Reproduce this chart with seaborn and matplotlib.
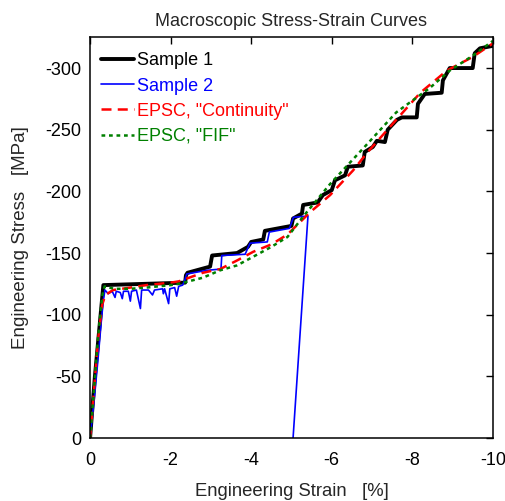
import numpy as np
import pandas as pd
import matplotlib
matplotlib.use("Agg")
import matplotlib.pyplot as plt
import seaborn as sns

# ---- data ----
strain_s1 = [0, -0.12, -0.33, -2.36, -2.38, -2.42, -2.98, -3.03, -3.65, -3.92, -4.0, -4.3,
             -4.34, -5.0, -5.04, -5.26, -5.29, -5.65, -5.78, -6.0, -6.08, -6.33, -6.4, -6.77,
             -6.82, -7.02, -7.12, -7.32, -7.39, -7.62, -7.74, -8.11, -8.14, -8.31, -8.73,
             -8.76, -8.93, -9.5, -9.55, -9.68, -10.0]
stress_s1 = [0, -50, -124, -126, -132, -134, -139, -148, -150, -155, -159, -161,
             -168, -172, -178, -182, -189, -191, -197, -201, -209, -213, -220, -221,
             -232, -236, -241, -240, -250, -258, -260, -260, -271, -279, -280,
             -290, -300, -300, -312, -316, -318]

strain_s2 = [0, -0.1, -0.2, -0.28, -0.33, -0.37, -0.45, -0.55, -0.62, -0.65, -0.75, -0.8,
             -0.83, -0.95, -1.0, -1.03, -1.15, -1.25, -1.28, -1.45, -1.55, -1.6, -1.8,
             -1.82, -1.85, -1.95, -1.98, -2.1, -2.15, -2.2, -2.3, -2.35, -2.4, -2.9,
             -3.25, -3.27, -3.85, -3.97, -4.4, -4.45, -4.95, -5.05, -5.41, -5.04]
stress_s2 = [0, -30, -65, -95, -112, -120, -117, -119, -114, -119, -118, -113,
             -119, -119, -111, -119, -120, -105, -120, -120, -116, -120, -121,
             -117, -121, -109, -121, -122, -115, -123, -124, -128, -133, -136,
             -137, -148, -149, -158, -159, -167, -170, -179, -180, 0]

strain_cont = [0, -0.1, -0.2, -0.3, -0.38, -0.57, -1.0, -1.4, -2.0, -2.2, -2.8, -3.23,
               -3.65, -4.05, -4.5, -4.9, -5.46, -5.96, -6.53, -6.87, -7.6, -8.2, -8.86,
               -9.5, -10.0]
stress_cont = [0, -40, -80, -108, -116, -120, -122, -124, -126, -127, -134, -137,
               -144, -151, -157, -165, -183, -197, -217, -231, -258, -280, -298,
               -309, -320]

strain_fif = [0, -0.1, -0.2, -0.3, -0.36, -0.6, -1.0, -1.4, -2.0, -2.2, -2.8, -3.23,
              -3.65, -4.05, -4.5, -4.9, -5.3, -5.96, -6.87, -7.6, -8.44, -8.93, -9.5, -10.0]
stress_fif = [0, -40, -82, -115, -123, -121, -121, -122, -124, -125, -130, -136,
              -140, -147, -155, -163, -180, -206, -238, -264, -284, -298, -310, -322]

labels = ["Sample 1", "Sample 2", 'EPSC, "Continuity"', 'EPSC, "FIF"']
x_ticks = [0, -2, -4, -6, -8, -10]
y_ticks = [0, -50, -100, -150, -200, -250, -300]

# ---- style ----
sns.set_style("white")
plt.rcParams['font.family'] = ['Liberation Sans', 'DejaVu Sans']
plt.rcParams['axes.unicode_minus'] = False

fig = plt.figure(figsize=(5.06, 5.01), dpi=100)
ax = fig.add_axes([0.178, 0.1257, 0.796, 0.800])

dash = (0, (4, 2.5))
dot = (0, (1.5, 1.5))

sns.lineplot(x=strain_s1, y=stress_s1, sort=False, estimator=None, ax=ax,
             color="black", lw=2.8, label=labels[0])
sns.lineplot(x=strain_s2, y=stress_s2, sort=False, estimator=None, ax=ax,
             color="#0000ff", lw=1.2, label=labels[1])
sns.lineplot(x=strain_cont, y=stress_cont, sort=False, estimator=None, ax=ax,
             color="#ff0000", lw=1.8, label=labels[2])
sns.lineplot(x=strain_fif, y=stress_fif, sort=False, estimator=None, ax=ax,
             color="#008000", lw=1.8, label=labels[3])
ax.lines[2].set_linestyle(dash)
ax.lines[3].set_linestyle(dot)

ax.set_xlim(0, -10)
ax.set_ylim(0, -325)
ax.set_xticks(x_ticks)
ax.set_yticks(y_ticks)
ax.set_xticklabels([str(t) for t in x_ticks])
ax.set_yticklabels([str(t) for t in y_ticks])
ax.tick_params(direction="in", length=5, width=1, top=True, right=True,
               labelsize=13, colors="black")
ax.tick_params(axis="x", pad=10)
ax.tick_params(axis="y", pad=6)
for s in ax.spines.values():
    s.set_color("black")
    s.set_linewidth(1.1)

ax.set_xlabel("Engineering Strain   [%]", fontsize=13.3, labelpad=10)
ax.set_ylabel("Engineering Stress   [MPa]", fontsize=13.5, labelpad=12)
ax.set_title("Macroscopic Stress-Strain Curves", fontsize=13, pad=8)

leg = ax.legend(loc="upper left", bbox_to_anchor=(0.01, 0.98), frameon=False,
                fontsize=13, handlelength=1.8, handletextpad=0.2,
                labelspacing=0.45, borderaxespad=0.0, borderpad=0.4,
                labelcolor="linecolor")
for h, ls in zip(leg.get_lines(), ["-", "-", dash, dot]):
    h.set_linestyle(ls)

fig.savefig("out.png", dpi=100)
